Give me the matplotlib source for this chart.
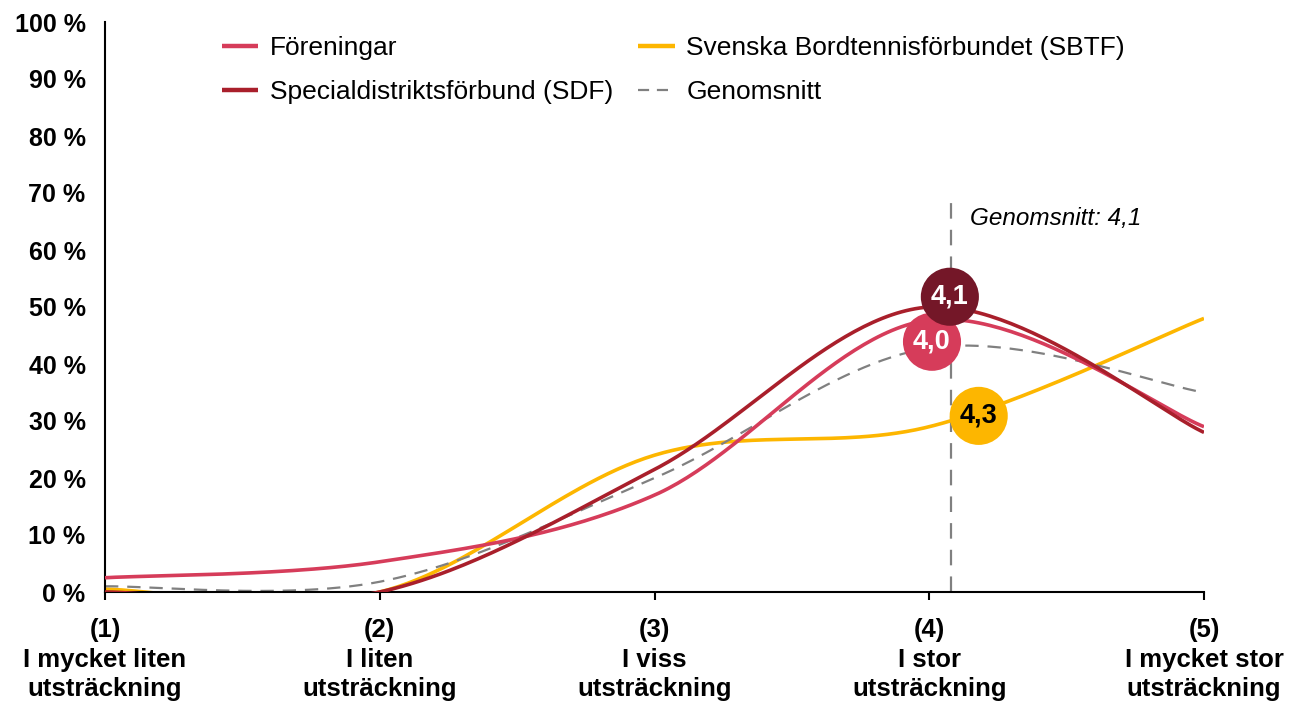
import numpy as np
import matplotlib
matplotlib.use("Agg")
import matplotlib.pyplot as plt

plt.rcParams['font.family'] = ['Liberation Sans', 'DejaVu Sans']

# ---- data ----
x_pos = [1, 2, 3, 4, 5]
x_labels = ["(1)\nI mycket liten\nutsträckning", "(2)\nI liten\nutsträckning",
            "(3)\nI viss\nutsträckning", "(4)\nI stor\nutsträckning",
            "(5)\nI mycket stor\nutsträckning"]
foreningar = [2.5, 5.3, 17.0, 47.7, 29.0]
sdf = [0.0, 0.0, 21.5, 50.0, 28.0]
sbtf = [0.5, 0.0, 24.0, 29.0, 48.0]
genomsnitt = [1.0, 1.8, 20.0, 42.8, 35.0]
series_names = ["Föreningar", "Specialdistriktsförbund (SDF)",
                "Svenska Bordtennisförbundet (SBTF)", "Genomsnitt"]
avg_value = 4.08
avg_label = "Genomsnitt: 4,1"
bubble_x = [4.01, 4.075, 4.18]
bubble_y = [43.9, 51.8, 30.9]
bubble_text = ["4,0", "4,1", "4,3"]
y_ticks = list(range(0, 101, 10))
y_labels = [f"{v} %" for v in y_ticks]

c_for = "#D63C5A"
c_sdf = "#A91F2B"
c_sbtf = "#FDB600"
c_gen = "#808080"
bubble_colors = [c_for, "#741728", "#FDB600"]
bubble_tc = ["white", "white", "black"]


def smooth(xs, ys, n=60):
    """Excel-like smoothed line: cubic Bezier with Catmull-Rom tangents (1/6)."""
    xs = np.asarray(xs, float)
    ys = np.asarray(ys, float)
    P = np.column_stack([xs, ys])
    out = []
    m = len(P)
    for i in range(m - 1):
        p0 = P[i - 1] if i > 0 else P[i]
        p1 = P[i]
        p2 = P[i + 1]
        p3 = P[i + 2] if i + 2 < m else P[i + 1]
        c1 = p1 + (p2 - p0) / 6.0
        c2 = p2 - (p3 - p1) / 6.0
        t = np.linspace(0, 1, n)[:, None]
        seg = ((1 - t) ** 3) * p1 + 3 * ((1 - t) ** 2) * t * c1 + 3 * (1 - t) * t ** 2 * c2 + t ** 3 * p2
        out.append(seg if i == 0 else seg[1:])
    arr = np.vstack(out)
    return arr[:, 0], arr[:, 1]


fig = plt.figure(figsize=(12.89, 7.05), dpi=100)
ax = fig.add_axes([105 / 1289, 1 - 592 / 705, (1204 - 105) / 1289, (592 - 22) / 705])

lw = 2.6
h = []
for vals, col, name, ls, z in [(foreningar, c_for, series_names[0], '-', 3),
                               (sdf, c_sdf, series_names[1], '-', 4),
                               (sbtf, c_sbtf, series_names[2], '-', 2),
                               (genomsnitt, c_gen, series_names[3], '--', 2.5)]:
    sx, sy = smooth(x_pos, vals)
    if ls == '--':
        line, = ax.plot(sx, sy, color=col, lw=1.6, dashes=(6, 4), label=name, zorder=z)
    else:
        line, = ax.plot(sx, sy, color=col, lw=lw, label=name, zorder=z,
                        solid_capstyle='butt')
    h.append(line)

# average vertical line
ax.plot([avg_value, avg_value], [0, 69], color="#808080", lw=1.6, dashes=(7, 5), zorder=1)
ax.text(avg_value + 0.07, 65.5, avg_label, fontsize=17.5, style='italic', va='center', ha='left')

# bubbles
for bx, by, bt, bc, tc in zip(bubble_x, bubble_y, bubble_text, bubble_colors, bubble_tc):
    ax.scatter([bx], [by], s=1750, color=bc, zorder=6, clip_on=False, edgecolors='none')
    ax.text(bx, by, bt, color=tc, fontsize=19.5, fontweight='bold', ha='center', va='center', zorder=7)

ax.set_xlim(1, 5)
ax.set_ylim(0, 100)
ax.set_xticks(x_pos)
ax.set_xticklabels(x_labels, fontsize=18.5, fontweight='bold', linespacing=1.28)
ax.set_yticks(y_ticks)
ax.set_yticklabels(y_labels, fontsize=18, fontweight='bold')
ax.tick_params(axis='y', length=0, pad=14)
ax.tick_params(axis='x', length=6, width=1.5, direction='out', pad=13)
for s in ['top', 'right']:
    ax.spines[s].set_visible(False)
for s in ['left', 'bottom']:
    ax.spines[s].set_linewidth(1.5)
    ax.spines[s].set_color('black')

leg = fig.legend(handles=[h[0], h[1], h[2], h[3]], loc='upper left',
                 bbox_to_anchor=(222 / 1289, 1 - 36 / 705), ncol=2, frameon=False,
                 fontsize=19, handlelength=1.37, handletextpad=0.45,
                 columnspacing=0.95, labelspacing=0.75, borderpad=0, borderaxespad=0)
for lh in leg.get_lines():
    if lh.get_linestyle() == '-':
        lh.set_linewidth(3.2)
    else:
        lh.set_linewidth(1.6)
        lh.set_dashes((5, 3.5))

fig.savefig("out.png", dpi=100)
